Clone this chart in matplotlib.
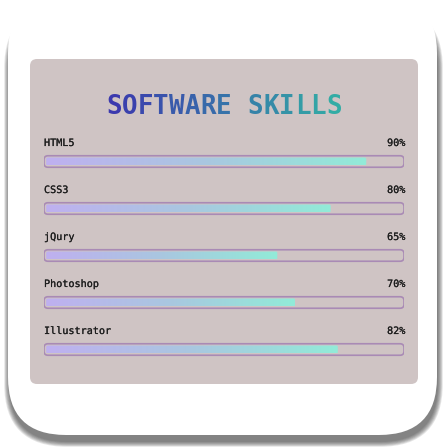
import numpy as np
import matplotlib.pyplot as plt
import matplotlib.patheffects as pe
from matplotlib.patches import FancyBboxPatch
from matplotlib.colors import LinearSegmentedColormap, to_rgb

# Data
skills = ["HTML5", "CSS3", "jQury", "Photoshop", "Illustrator"]
levels = [90, 80, 65, 70, 82]
title_words = ["SOFTWARE", "SKILLS"]

# Colours
panel_color = "#cfc4c4"
outline_color = "#a98ab5"
text_color = "#1e1e1e"
title_start = "#3b39ae"
title_end = "#33aca5"
bar_cmap = LinearSegmentedColormap.from_list("skill", ["#bfb0f0", "#a9c7e0", "#92ebd8"])

W = H = 448
fig = plt.figure(figsize=(4.48, 4.48), dpi=100)
fig.patch.set_facecolor("white")

# Background axes in pixel units (for the card and the panel)
bg = fig.add_axes([0, 0, 1, 1])
bg.set_xlim(0, W)
bg.set_ylim(H, 0)
bg.axis("off")

# Card shadow (stacked translucent boxes, shifted down so the top stays clean)
for k in range(7):
    grow = k * 0.8
    sh = FancyBboxPatch((9 - grow, 10 - grow), 429 + 2 * grow, 432 + 2 * grow,
                        boxstyle="round,pad=0,rounding_size=%f" % (58 + grow),
                        fc="#333333", ec="none", alpha=0.12, zorder=1)
    bg.add_patch(sh)

card = FancyBboxPatch((8, -5), 429, 440, boxstyle="round,pad=0,rounding_size=58",
                      fc="white", ec="none", zorder=2)
bg.add_patch(card)

panel = FancyBboxPatch((30, 59), 388, 325, boxstyle="round,pad=0,rounding_size=7",
                       fc=panel_color, ec="none", zorder=3)
bg.add_patch(panel)

# Title with a colour gradient, one character at a time
title = " ".join(title_words)
c0 = np.array(to_rgb(title_start))
c1 = np.array(to_rgb(title_end))
char_w = 15.73
x_start = 106
for i, ch in enumerate(title):
    t = i / (len(title) - 1)
    bg.text(x_start + (i + 0.5) * char_w, 113.5, ch, ha="center", va="baseline",
            fontsize=18.6, fontweight="bold", family="DejaVu Sans Mono",
            color=tuple(c0 + (c1 - c0) * t), zorder=5)

# Bar axes: x 0..100 (%), one row per skill
ax = fig.add_axes([44 / W, 1 - 373 / H, 360 / W, 235 / H])
ax.set_xlim(0, 100)
ax.set_ylim(len(skills) - 0.5, -0.5)
ax.axis("off")

px_x = 100 / 360.0   # data units per pixel in x
px_y = 1 / 47.0      # data units per pixel in y
aspect = px_y / px_x

bar_h = 11.5 * px_y
fill_h = 8 * px_y
inset = 2.2 * px_x
grad = np.linspace(0, 1, 256).reshape(1, -1)
label_fx = [pe.withStroke(linewidth=0.12, foreground=text_color)]

for i, (name, val) in enumerate(zip(skills, levels)):
    # labels
    ax.text(0, i - 15.5 * px_y, name, ha="left", va="baseline", fontsize=7.3,
            family="DejaVu Sans Mono", color=text_color, path_effects=label_fx)
    ax.text(100.4, i - 15.5 * px_y, "%d%%" % val, ha="right", va="baseline", fontsize=7.3,
            family="DejaVu Sans Mono", color=text_color, path_effects=label_fx)

    # gradient fill
    x1 = inset + val / 100 * (100 - 2 * inset)
    fill = FancyBboxPatch((inset, i - fill_h / 2), x1 - inset, fill_h,
                          boxstyle="round,pad=0,rounding_size=%f" % (1.5 * px_x),
                          mutation_aspect=aspect, fc="none", ec="none")
    ax.add_patch(fill)
    im = ax.imshow(grad, cmap=bar_cmap, aspect="auto",
                   extent=(inset, x1, i + fill_h / 2, i - fill_h / 2), zorder=3)
    im.set_clip_path(fill)

    # track outline
    track = FancyBboxPatch((0, i - bar_h / 2), 100, bar_h,
                           boxstyle="round,pad=0,rounding_size=%f" % (4 * px_x),
                           mutation_aspect=aspect, fc="none", ec=outline_color,
                           lw=1.2, zorder=4)
    ax.add_patch(track)

ax.set_xlim(0, 100)
ax.set_ylim(len(skills) - 0.5, -0.5)

plt.savefig("out.png", dpi=100, facecolor="white")
